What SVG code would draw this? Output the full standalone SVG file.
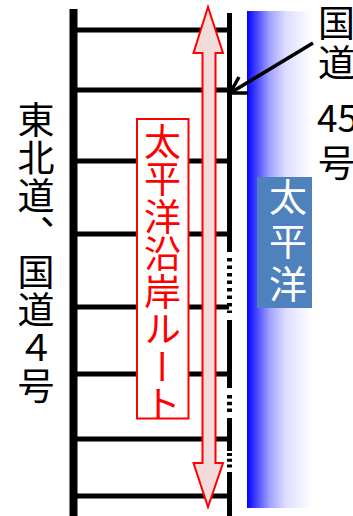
<svg xmlns="http://www.w3.org/2000/svg" width="353" height="516" viewBox="0 0 353 516">
<defs>
<linearGradient id="sea" x1="0" y1="0" x2="1" y2="0">
<stop offset="0" stop-color="#0000ff"/>
<stop offset="0.12" stop-color="#3a3aff"/>
<stop offset="0.35" stop-color="#a2a2ff"/>
<stop offset="0.6" stop-color="#dedeff"/>
<stop offset="1" stop-color="#ffffff"/>
</linearGradient>
<style>
.rung{stroke:#000;stroke-width:5;fill:none}
.solid{stroke:#000;stroke-width:5;fill:none}
.dash{stroke:#000;stroke-width:5;fill:none;stroke-dasharray:3.5 4}
.jp{font-family:"Noto Sans CJK JP","Noto Sans CJK SC",sans-serif}
.vt{writing-mode:vertical-rl}
</style>
</defs>
<rect width="353" height="516" fill="#ffffff"/>
<g id="ocean">
<rect x="247" y="11" width="65" height="497" fill="url(#sea)"/>
</g>
<g id="tohoku-road">
<line class="rung" x1="74" y1="30" x2="229" y2="30"/>
<line class="rung" x1="74" y1="90" x2="229" y2="90"/>
<line class="rung" x1="74" y1="161" x2="229" y2="161"/>
<line class="rung" x1="74" y1="234" x2="229" y2="234"/>
<line class="rung" x1="74" y1="307" x2="229" y2="307"/>
<line class="rung" x1="74" y1="374" x2="229" y2="374"/>
<line class="rung" x1="74" y1="439" x2="229" y2="439"/>
<line class="rung" x1="74" y1="496" x2="229" y2="496"/>
<line x1="73.5" y1="9" x2="73.5" y2="516" stroke="#000" stroke-width="8"/>
</g>
<g id="route45-line">
<line class="solid" x1="229.5" y1="13" x2="229.5" y2="252"/>
<line class="dash" x1="229.5" y1="258" x2="229.5" y2="313"/>
<line class="solid" x1="229.5" y1="320" x2="229.5" y2="388"/>
<line class="dash" x1="229.5" y1="395" x2="229.5" y2="414" style="stroke-dasharray:3.5 3.3"/>
<line class="solid" x1="229.5" y1="418" x2="229.5" y2="451"/>
<line class="dash" x1="229.5" y1="453" x2="229.5" y2="468" style="stroke-dasharray:3 2.8"/>
<line class="solid" x1="229.5" y1="472" x2="229.5" y2="516"/>
</g>
<g id="route-label">
<rect x="137" y="119" width="51.5" height="299.5" fill="#ffffff" stroke="#ff0000" stroke-width="2"/>
<text class="jp vt" x="162.5" y="123" font-size="37" letter-spacing="0.5" fill="#ff0000" writing-mode="vertical-rl">太平洋沿岸ルート</text>
</g>
<g id="route-arrow">
<polygon points="208,7 223,53 215.5,53 215.5,463 223,463 208,507 193.5,463 202.5,463 202.5,53 193.5,53" fill="#f2dcdb" stroke="#ff0000" stroke-width="2" stroke-linejoin="miter"/>
</g>
<g id="pacific-label">
<rect x="257" y="177" width="55" height="131" fill="#4f81bd"/>
<text class="jp vt" x="288" y="178" font-size="38" letter-spacing="5.5" fill="#ffffff" writing-mode="vertical-rl">太平洋</text>
</g>
<g id="tohoku-label">
<text class="jp vt" x="36" y="101" font-size="37" letter-spacing="1" fill="#000" writing-mode="vertical-rl">東北道、国道４号</text>
</g>
<g id="route45-label">
<text class="jp" font-size="37" fill="#000"><tspan x="318" y="37">国</tspan><tspan x="318" y="77">道</tspan><tspan x="317" y="132">45</tspan><tspan x="318" y="177">号</tspan></text>
</g>
<g id="connectors">
<line x1="313" y1="43" x2="231" y2="92.5" stroke="#000" stroke-width="3.5"/>
<polyline points="239,77 230,93 248,93" fill="none" stroke="#000" stroke-width="3.5" stroke-linejoin="miter"/>
</g>
</svg>
